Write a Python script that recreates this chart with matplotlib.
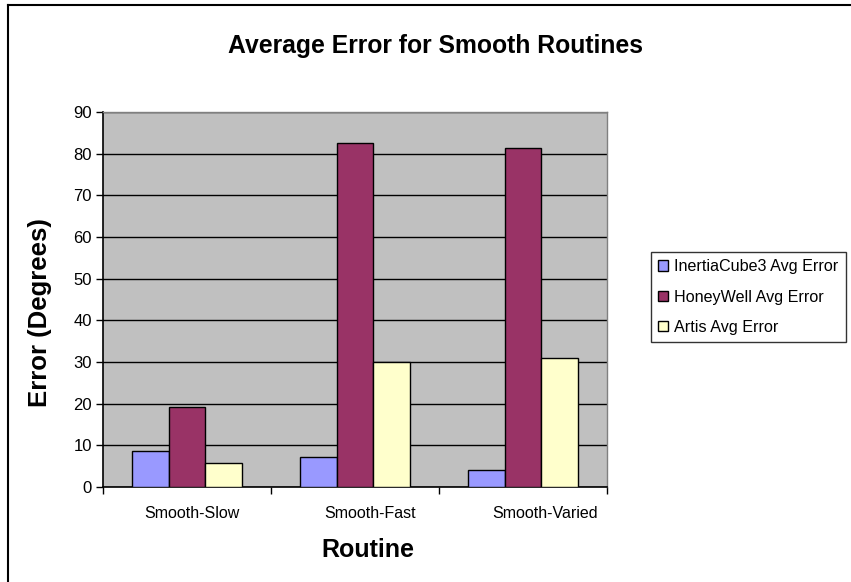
#!/usr/bin/env python3
"""Average error bar chart"""

import numpy as np
import matplotlib
matplotlib.use('Agg')
import matplotlib.pyplot as plt
from matplotlib.lines import Line2D

routines = ['Smooth-Slow', 'Smooth-Fast', 'Smooth-Varied']
series_names = ['InertiaCube3 Avg Error', 'HoneyWell Avg Error', 'Artis Avg Error']
inertiacube = [8.6, 7.1, 4.2]
honeywell = [19.2, 82.5, 81.3]
artis = [5.7, 30.0, 30.9]
colors = ['#9999FF', '#993366', '#FFFFCC']
y_ticks = list(range(0, 91, 10))

plt.rcParams['font.family'] = ['Liberation Sans', 'DejaVu Sans']

fig = plt.figure(figsize=(8.51, 5.82), dpi=100)
W, H = 851, 582
ax = fig.add_axes([103 / W, 1 - 487 / H, (607 - 103) / W, (487 - 112) / H])
ax.set_facecolor('#C0C0C0')

x = np.arange(len(routines))
width = 0.22
for i, (vals, name) in enumerate(zip([inertiacube, honeywell, artis], series_names)):
  ax.bar(x + (i - 1) * width, vals, width, color=colors[i], edgecolor='black',
         linewidth=1.0, label=name, zorder=3)

ax.set_xlim(-0.5, len(routines) - 0.5)
ax.set_ylim(0, 90)
ax.set_yticks(y_ticks)
ax.yaxis.grid(True, color='black', linewidth=1.0, zorder=1)
ax.set_axisbelow(True)

# category ticks between groups, labels centered
ax.set_xticks(np.arange(-0.5, len(routines)), minor=False)
ax.set_xticklabels([])
ax.set_xticks(x + np.array([0.03, 0.09, 0.13]), minor=True)
ax.set_xticklabels(routines, minor=True, fontsize=11.5)
ax.tick_params(axis='x', which='minor', length=0, pad=14)
ax.tick_params(axis='x', which='major', length=5, width=1, direction='out')
ax.tick_params(axis='y', length=5, width=1, direction='out', labelsize=12, pad=3)

for side in ['top', 'right']:
  ax.spines[side].set_color('#808080')
  ax.spines[side].set_linewidth(1.0)
ax.spines['left'].set_linewidth(1.2)
ax.spines['bottom'].set_linewidth(1.2)

fig.text(436 / W, 1 - 46 / H, 'Average Error for Smooth Routines', fontsize=17.8,
         fontweight='bold', ha='center', va='center')
ax.set_xlabel('Routine', fontsize=18, fontweight='bold')
ax.xaxis.set_label_coords((368 - 103) / (607 - 103), -(550 - 487) / (487 - 112))
ax.xaxis.label.set_va('center')
ax.set_ylabel('Error (Degrees)', fontsize=18.5, fontweight='bold')
ax.yaxis.set_label_coords(-(103 - 40) / (607 - 103), (487 - 313) / (487 - 112))
ax.yaxis.label.set_va('center')

leg = fig.legend(loc='upper left', bbox_to_anchor=(651 / W, 1 - 252 / H),
                 fontsize=11.6, frameon=True, fancybox=False, edgecolor='black',
                 handlelength=0.6, handleheight=0.6, handletextpad=0.4,
                 labelspacing=0.95, borderpad=0.45, borderaxespad=0)
leg.get_frame().set_linewidth(1.0)

# chart area border (top and left visible)
fig.add_artist(Line2D([8 / W, 1], [1 - 5 / H, 1 - 5 / H], color='black', linewidth=1.5))
fig.add_artist(Line2D([8 / W, 8 / W], [0, 1 - 5 / H], color='black', linewidth=1.5))

fig.savefig('out.png', dpi=100)
